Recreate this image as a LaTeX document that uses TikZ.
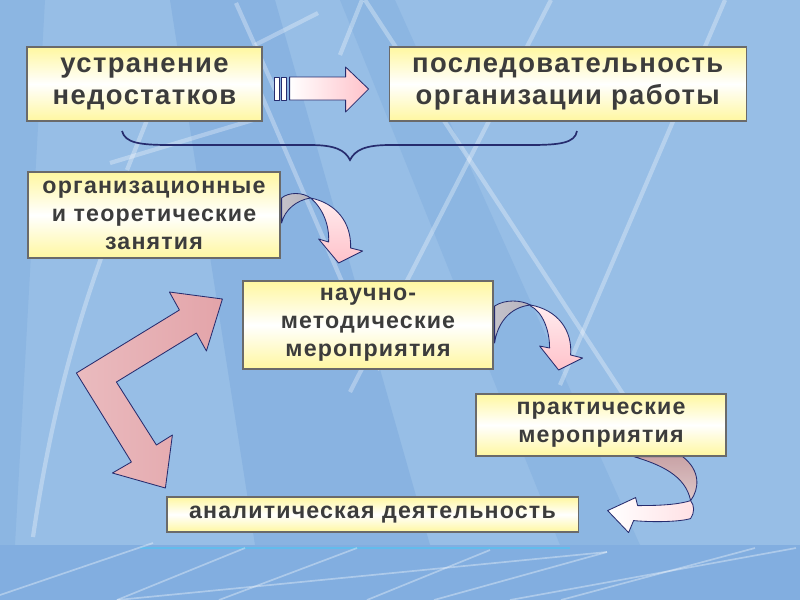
\documentclass[tikz,border=0pt]{standalone}
\usepackage{fontspec}
\setmainfont{Liberation Sans}
\newfontfamily\boxfont{Liberation Sans}[LetterSpace=5]
\usetikzlibrary{positioning}

\definecolor{bgblue}{HTML}{97BEE6}
\definecolor{bgdark}{HTML}{6F9FD8}
\definecolor{bandblue}{HTML}{82AEE0}
\definecolor{boxyellow}{HTML}{FFF7A0}
\definecolor{boxline}{HTML}{6A6A6A}
\definecolor{boxtext}{HTML}{3C3C3C}
\definecolor{navy}{HTML}{262C6E}
\definecolor{rosy}{HTML}{E3A4A9}
\definecolor{lightrose}{HTML}{FFC2CA}
\definecolor{backgray}{HTML}{B6B3BD}
\definecolor{backrose}{HTML}{C9A3A6}

\begin{document}
\begin{tikzpicture}[
    x=0.025cm, y=-0.025cm,
    box/.style={draw=boxline, line width=0.8pt, top color=boxyellow, bottom color=boxyellow, middle color=white, align=center, text=boxtext, inner sep=0pt},
    bigbox/.style={box, font=\boxfont\bfseries\fontsize{19.5}{22.5}\selectfont},
    smallbox/.style={box, font=\boxfont\bfseries\fontsize{16.5}{20}\selectfont},
    blockarrow/.style={draw=navy, line width=0.6pt, line join=round},
    bgline/.style={white, opacity=0.3, line width=3pt},
]
% background
\useasboundingbox (0,0) rectangle (800,600);
\fill[bgblue] (0,0) rectangle (800,600);
\fill[bgdark, opacity=0.35] (170,0) -- (275,0) -- (430,545) -- (255,545) -- cycle;
\fill[bgdark, opacity=0.25] (340,0) -- (395,0) -- (640,545) -- (560,545) -- cycle;
\fill[bgdark, opacity=0.25] (0,0) -- (45,0) -- (15,545) -- (0,545) -- cycle;
\draw[bgline] (236,3) -- (275,90);
\draw[bgline] (255,45) -- (318,13);
\draw[bgline] (362,0) -- (340,55);
\draw[bgline] (365,0) -- (640,420);
\draw[bgline] (551,0) -- (350,392);
\draw[bgline] (725,0) -- (560,385);
\draw[bgline] (255,80) -- (380,370);
\draw[bgline] (147,120) -- (127,170);
\draw[bgline] (110,163) -- (253,120);
\draw[bgline] (104,250) .. controls (75,330) and (50,420) .. (33,537);
% bottom band
\fill[bandblue] (0,545) rectangle (800,600);
\draw[cyan!70!white, opacity=0.6, line width=1.5pt] (140,548) -- (570,548);
\foreach \a/\b/\c/\d in {0/595/153/543, 117/600/245/548, 219/600/357/548, 117/600/607/552,
    367/600/490/550, 434/600/607/552, 510/600/796/548, 561/600/755/548}
  \draw[white, opacity=0.35, line width=1.2pt] (\a,\b) -- (\c,\d);

% boxes
\node[bigbox, minimum width=5.875cm, minimum height=1.85cm] (fix) at (144.5,84) {устранение\\недостатков};
\node[bigbox, minimum width=8.925cm, minimum height=1.85cm, right=3.15cm of fix] (order) {последовательность\\организации работы};
\node[smallbox, minimum width=6.3cm, minimum height=2.15cm] (theory) at (154,215) {организационные\\и теоретические\\занятия};
\node[smallbox, minimum width=6.25cm, minimum height=2.2cm] (method) at (368,325) {научно-\\методические\\мероприятия};
\node[smallbox, minimum width=6.25cm, minimum height=1.55cm] (practice) at (601,425) {практические\\мероприятия};
\node[smallbox, minimum width=10.275cm, minimum height=0.875cm] (analysis) at (372.5,514.5) {аналитическая деятельность};

% striped arrow
\begin{scope}[shift={(fix.east)}]
\draw[blockarrow, fill=white] (12,-7) rectangle (17,16);
\draw[blockarrow, fill=white] (19,-7) rectangle (24,16);
\draw[blockarrow, left color=white, right color=lightrose] (27,-7) -- (83,-7) -- (83,-17) -- (106,5) -- (83,28) -- (83,16) -- (27,16) -- cycle;
\end{scope}

% brace
\draw[navy, line width=1.2pt] (122,131) .. controls (125,143) and (140,145) .. (170,145) -- (310,145)
  .. controls (335,145) and (345,150) .. (350,160) .. controls (355,150) and (365,145) .. (390,145)
  -- (530,145) .. controls (560,145) and (575,143) .. (577,131);

% curved arrows
\begin{scope}[shift={(theory.east)}]
\draw[blockarrow, left color=backgray!80!white, right color=backgray] (1,-17) .. controls (8,-23) and (22,-23) .. (30,-17) .. controls (16,-15) and (4,-5) .. (1,8) -- cycle;
\draw[blockarrow, top color=white!70!lightrose, bottom color=lightrose] (30,-17) .. controls (55,-12) and (71,7) .. (70,33) -- (82,36) -- (58,48) -- (38,24) -- (48,27) .. controls (49,10) and (42,-7) .. (30,-17) -- cycle;
\end{scope}
\begin{scope}[shift={(method.east)}]
\draw[blockarrow, left color=backgray!80!white, right color=backgray] (1,-19) .. controls (12,-26) and (27,-25) .. (37,-20) .. controls (17,-18) and (4,-3) .. (1,18) -- cycle;
\draw[blockarrow, top color=white!70!lightrose, bottom color=lightrose] (37,-20) .. controls (64,-15) and (79,5) .. (77,30) -- (89,33) -- (65,45) -- (46,21) -- (56,23) .. controls (56,5) and (49,-13) .. (37,-19) -- cycle;
\end{scope}
\begin{scope}[shift={(practice.south east)}]
\draw[blockarrow, top color=backrose, bottom color=backrose!60!white] (-93,0) .. controls (-66,8) and (-41,19) .. (-36,44) .. controls (-27,32) and (-26,14) .. (-44,0) -- cycle;
\draw[blockarrow, left color=white, right color=lightrose!50!white] (-36,44) .. controls (-51,49) and (-76,49) .. (-89,49) -- (-91,41) -- (-119,54) -- (-98,76) -- (-93,64)
  .. controls (-71,66) and (-46,65) .. (-36,62) .. controls (-32,56) and (-32,49) .. (-36,44) -- cycle;
\end{scope}
\draw[boxline, line width=0.8pt] (practice.south west) -- (practice.south east);

% double bent arrow
\begin{scope}[shift={(method.west)}]
\draw[blockarrow, left color=rosy!75!white, right color=rosy] (-166,48) -- (-63,-15) -- (-73,-33) -- (-20,-26) -- (-36,26) -- (-46,8) -- (-126,57)
  -- (-86,120) -- (-70,110) -- (-77,163) -- (-130,148) -- (-111,137) -- cycle;
\end{scope}
\end{tikzpicture}
\end{document}
